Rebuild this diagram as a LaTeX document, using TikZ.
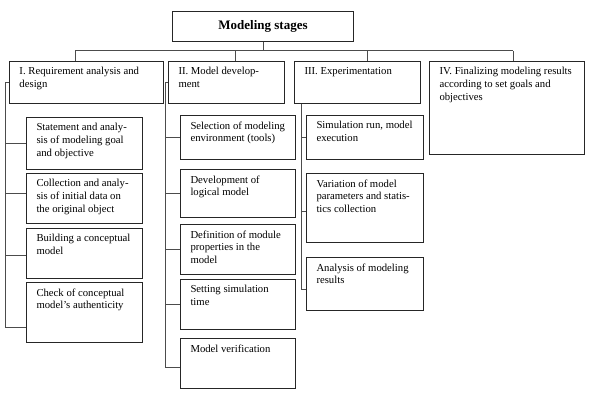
\documentclass[tikz,border=0pt]{standalone}
\usepackage{fontspec}
\setmainfont{Liberation Serif}

% text block of a box: width, height (pt), text at the top left
\newcommand{\boxtext}[3]{\parbox[t][\dimexpr#2pt-12pt\relax][t]{\dimexpr#1pt-20pt\relax}{#3}}

\begin{document}
\begin{tikzpicture}[x=1pt,y=-1pt,
  stagebox/.style={draw=black!85,line width=1pt,anchor=north west,
    inner xsep=10pt,inner ysep=6pt,font=\fontsize{10.7}{12.8}\selectfont},
  link/.style={black!70,line width=1pt}]

  \useasboundingbox (0,0) rectangle (597,409);

  % title
  \node[stagebox,inner sep=0pt,minimum width=181pt,minimum height=30pt,
    font=\fontsize{13}{15}\selectfont\bfseries] (title) at (172,11) {Modeling stages};

  % stages
  \node[stagebox] (req) at (9,61) {\boxtext{154}{42}{I. Requirement analysis and\\ design}};
  \node[stagebox] (dev) at (168,61) {\boxtext{116}{42}{II. Model develop-\\ ment}};
  \node[stagebox] (exper) at (294,61) {\boxtext{126}{42}{III. Experimentation}};
  \node[stagebox] (final) at (429,61) {\boxtext{155}{93}{IV. Finalizing modeling results\\ according to set goals and\\ objectives}};

  % steps of stage I
  \node[stagebox] (req1) at (26,117) {\boxtext{116}{52}{Statement and analy-\\ sis of modeling goal\\ and objective}};
  \node[stagebox] (req2) at (26,173) {\boxtext{116}{50}{Collection and analy-\\ sis of initial data on\\ the original object}};
  \node[stagebox] (req3) at (26,228) {\boxtext{116}{50}{Building a conceptual\\ model}};
  \node[stagebox] (req4) at (26,282) {\boxtext{116}{60}{Check of conceptual\\ model's authenticity}};

  % steps of stage II
  \node[stagebox] (dev1) at (180,115) {\boxtext{115}{44}{Selection of modeling\\ environment (tools)}};
  \node[stagebox] (dev2) at (180,169) {\boxtext{115}{48}{Development of\\ logical model}};
  \node[stagebox] (dev3) at (180,224) {\boxtext{115}{50}{Definition of module\\ properties in the\\ model}};
  \node[stagebox] (dev4) at (180,279) {\boxtext{115}{50}{Setting simulation\\ time}};
  \node[stagebox] (dev5) at (180,338) {\boxtext{115}{50}{Model verification}};

  % steps of stage III
  \node[stagebox] (exp1) at (306,115) {\boxtext{117}{44}{Simulation run, model\\ execution}};
  \node[stagebox] (exp2) at (306,173) {\boxtext{117}{69}{Variation of model\\ parameters and statis-\\ tics collection}};
  \node[stagebox] (exp3) at (306,257) {\boxtext{117}{53}{Analysis of modeling\\ results}};

  % bus under the title
  \coordinate (busL) at (75,51);
  \coordinate (busR) at (513,51);
  \draw[link] (title.south) -- (title.south |- busL);
  \draw[link] (busL) -- (busR);
  \foreach \x/\n in {75/req,235/dev,367/exper,513/final} {
    \coordinate (drop) at (\x,51);
    \draw[link] (drop) -- (drop |- \n.north);
  }

  % side rails
  \coordinate (rI) at (5,0);
  \coordinate (rII) at (165,0);
  \coordinate (rIII) at (301,0);
  \coordinate (req4t) at ([yshift=-15pt]req4.west);
  \coordinate (dev5t) at ([yshift=-4pt]dev5.west);
  \coordinate (exp3t) at ([yshift=-5.5pt]exp3.west);

  \draw[link] (req.west) -- (req.west -| rI) -- (rI |- req4t) -- (req4t);
  \draw[link] (dev.west) -- (dev.west -| rII) -- (rII |- dev5t) -- (dev5t);
  \draw[link] (exper.south -| rIII) -- (rIII |- exp3t) -- (exp3t);

  \foreach \n/\s/\r in {req1/0/rI,req2/5/rI,req3/-2/rI,
      dev1/0/rII,dev2/0/rII,dev3/0/rII,dev4/0/rII,
      exp1/0/rIII,exp2/-3.5/rIII} {
    \coordinate (tick) at ([yshift=\s pt]\n.west);
    \draw[link] (tick) -- (tick -| \r);
  }

\end{tikzpicture}
\end{document}
